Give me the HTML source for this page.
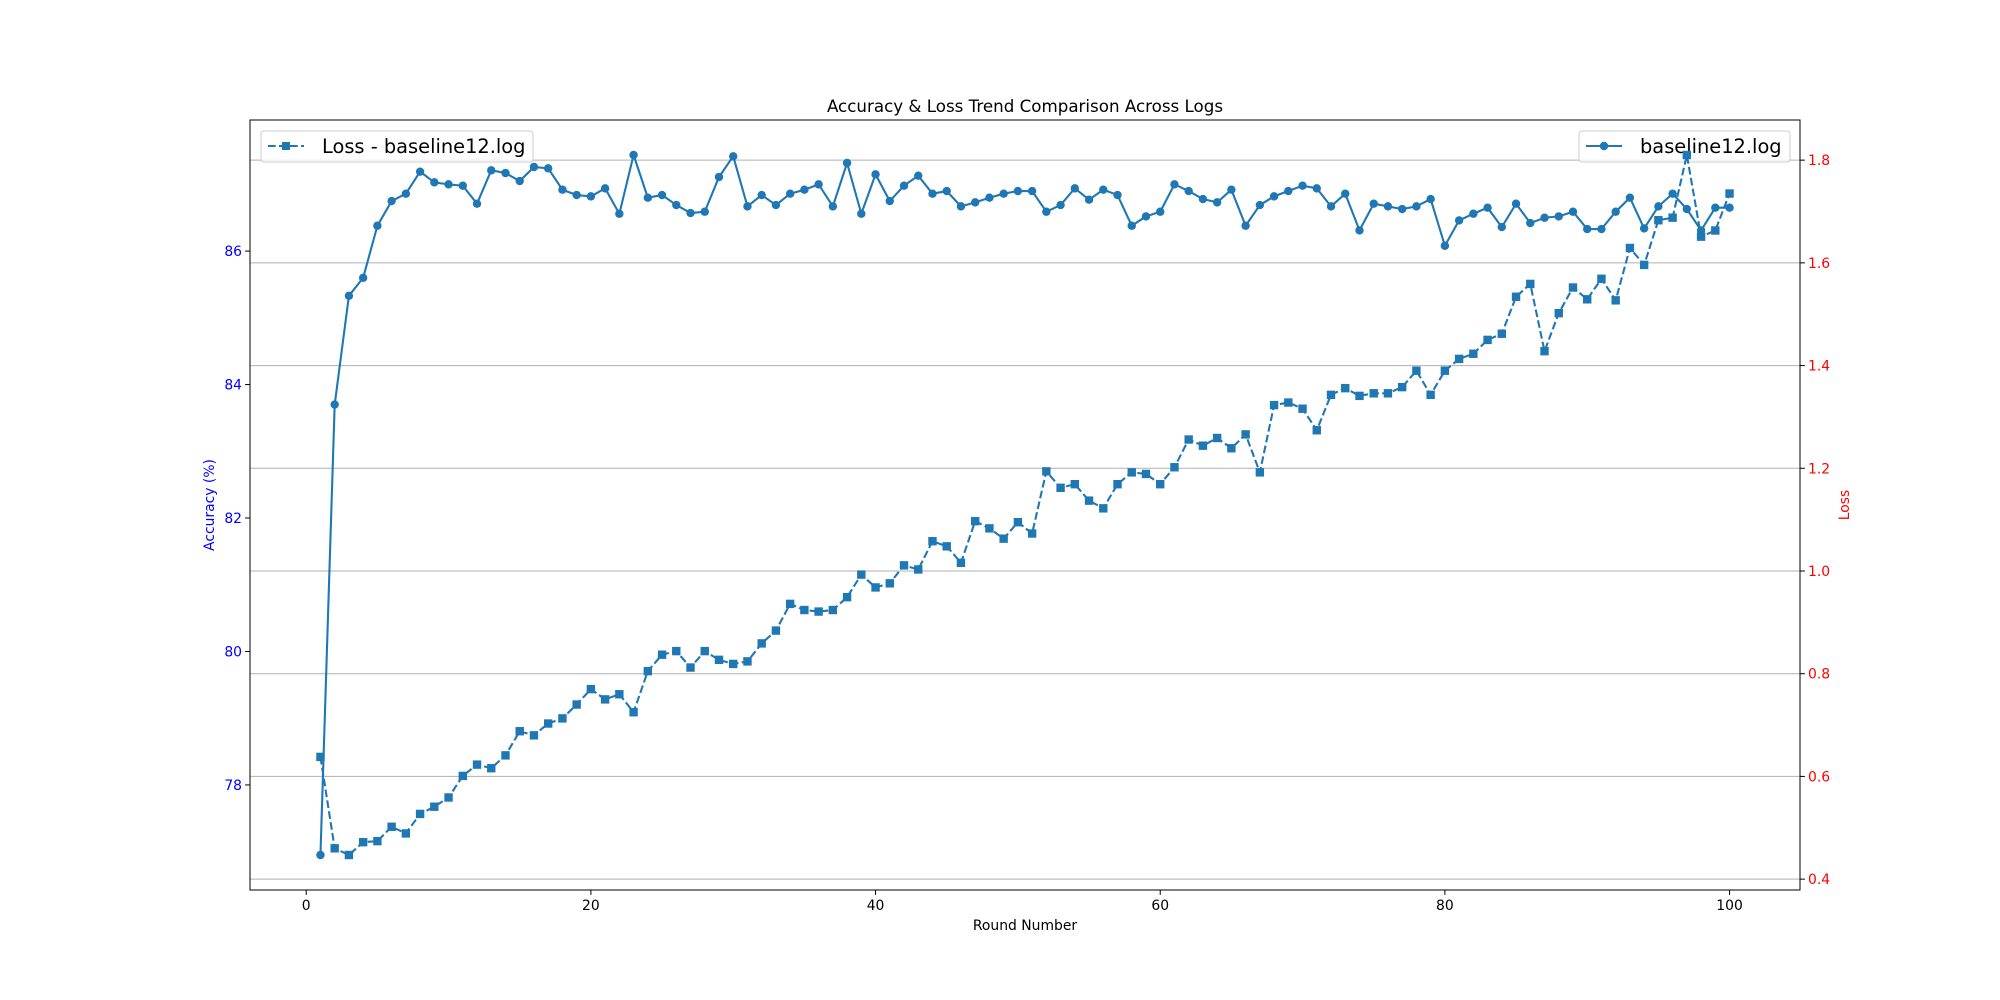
<!DOCTYPE html>
<html><head><meta charset="utf-8"><style>
html,body{margin:0;padding:0;background:#fff;}
svg{display:block;font-family:"DejaVu Sans","Liberation Sans",sans-serif;}
</style></head><body>
<svg id="chart" width="2000" height="1000" viewBox="0 0 2000 1000" xmlns="http://www.w3.org/2000/svg">
<rect x="0" y="0" width="2000" height="1000" fill="#fff"/>
<text x="1025" y="112" font-size="16.7" text-anchor="middle">Accuracy &amp; Loss Trend Comparison Across Logs</text>
<g id="grid"></g>
<g id="xticks"></g>
<g id="lticks"></g>
<g id="rticks"></g>
<g id="accseries"></g>
<g>
<rect x="1579" y="131" width="211" height="31" rx="3" fill="#fff" fill-opacity="0.8" stroke="#ccc"/>
<line x1="1586" y1="146" x2="1622" y2="146" stroke="#1f77b4" stroke-width="2.1"/>
<circle cx="1604" cy="146" r="4.2" fill="#1f77b4"/>
<text x="1640" y="153" font-size="19.4">baseline12.log</text>
</g>
<g id="lossseries"></g>
<rect x="250" y="120" width="1550" height="770" fill="none" stroke="#000" stroke-width="1"/>
<text x="1025" y="930" font-size="13.9" text-anchor="middle">Round Number</text>
<text transform="translate(214,505) rotate(-90)" font-size="13.9" fill="blue" text-anchor="middle">Accuracy (%)</text>
<text transform="translate(1849,505) rotate(-90)" font-size="13.9" fill="red" text-anchor="middle">Loss</text>
<g>
<rect x="261" y="131" width="272" height="31" rx="3" fill="#fff" fill-opacity="0.8" stroke="#ccc"/>
<line x1="268" y1="146" x2="304" y2="146" stroke="#1f77b4" stroke-width="2.1" stroke-dasharray="7.7,3.3"/>
<rect x="282" y="142" width="8" height="8" fill="#1f77b4"/>
<text x="322" y="153" font-size="19.4">Loss - baseline12.log</text>
</g>
</svg>
<script>
const rounds = Array.from({length:100},(_,i)=>i+1);
const accuracy = [76.95,83.70,85.33,85.60,86.38,86.75,86.86,87.19,87.03,87.00,
86.98,86.71,87.21,87.17,87.05,87.26,87.24,86.92,86.84,86.82,
86.94,86.56,87.44,86.80,86.84,86.69,86.57,86.59,87.11,87.42,
86.67,86.84,86.69,86.86,86.92,87.00,86.67,87.32,86.56,87.15,
86.75,86.98,87.13,86.86,86.90,86.67,86.73,86.80,86.86,86.90,
86.90,86.59,86.69,86.94,86.77,86.92,86.84,86.38,86.52,86.59,
87.00,86.90,86.78,86.73,86.92,86.38,86.69,86.82,86.90,86.98,
86.94,86.67,86.86,86.31,86.71,86.67,86.63,86.67,86.78,86.08,
86.46,86.56,86.65,86.36,86.71,86.42,86.50,86.52,86.59,86.33,
86.33,86.59,86.80,86.34,86.67,86.86,86.63,86.31,86.65,86.65];
const loss = [0.638,0.460,0.447,0.472,0.474,0.502,0.489,0.527,0.541,0.559,
0.601,0.623,0.616,0.641,0.688,0.680,0.703,0.713,0.740,0.770,
0.750,0.760,0.725,0.805,0.837,0.844,0.812,0.844,0.827,0.819,
0.824,0.859,0.884,0.936,0.924,0.921,0.924,0.949,0.993,0.968,
0.976,1.011,1.003,1.058,1.048,1.016,1.097,1.083,1.063,1.095,
1.073,1.194,1.162,1.169,1.137,1.122,1.169,1.192,1.189,1.169,
1.202,1.256,1.244,1.259,1.239,1.266,1.192,1.323,1.328,1.316,
1.274,1.343,1.356,1.341,1.346,1.346,1.358,1.390,1.343,1.390,
1.413,1.423,1.450,1.462,1.534,1.559,1.428,1.502,1.552,1.529,
1.569,1.527,1.629,1.596,1.683,1.688,1.810,1.651,1.663,1.735];
const xTicks = [0,20,40,60,80,100];
const accTicks = [78,80,82,84,86];
const lossTicks = [0.4,0.6,0.8,1.0,1.2,1.4,1.6,1.8];

const NS="http://www.w3.org/2000/svg";
const L=250,R=1800,T=120,B=890;
function mk(tag,attrs,parent){const e=document.createElementNS(NS,tag);for(const k in attrs)e.setAttribute(k,attrs[k]);parent.appendChild(e);return e;}
const xmin=Math.min(...rounds),xmaxv=Math.max(...rounds),xpad=(xmaxv-xmin)*0.05;
const X=v=>L+(v-(xmin-xpad))/((xmaxv+xpad)-(xmin-xpad))*(R-L);
const amin=Math.min(...accuracy),amax=Math.max(...accuracy),apad=(amax-amin)*0.05;
const YA=v=>B-(v-(amin-apad))/((amax+apad)-(amin-apad))*(B-T);
const lmin=Math.min(...loss),lmax=Math.max(...loss),lpad=(lmax-lmin)*0.05;
const YL=v=>B-(v-(lmin-lpad))/((lmax+lpad)-(lmin-lpad))*(B-T);

const grid=document.getElementById('grid'),xt=document.getElementById('xticks'),lt=document.getElementById('lticks'),rt=document.getElementById('rticks');
const accSer=document.getElementById('accseries'),lossSer=document.getElementById('lossseries');
xTicks.forEach(v=>{const x=X(v);
 const l=mk('line',{x1:x,x2:x,y1:B,y2:B+4.9,stroke:'#000','stroke-width':1},xt);
 
 
 const t=mk('text',{x:x,y:B+20,'font-size':13.9,'text-anchor':'middle'},xt);t.textContent=v;
 
 
});
accTicks.forEach(v=>{const y=YA(v);
 const l=mk('line',{x1:L-4.9,x2:L,y1:y,y2:y,stroke:'#000','stroke-width':1},lt);
 
 
 const t=mk('text',{x:L-8,y:y+5,'font-size':13.9,'text-anchor':'end',fill:'blue'},lt);t.textContent=v;
 
 
});
lossTicks.forEach(v=>{const y=YL(v);
 const g=mk('line',{x1:L,x2:R,y1:y,y2:y,stroke:'#b0b0b0','stroke-width':1},grid);
 
 
 const l=mk('line',{x1:R,x2:R+4.9,y1:y,y2:y,stroke:'#000','stroke-width':1},rt);
 
 
 const t=mk('text',{x:R+8,y:y+5,'font-size':13.9,fill:'red'},rt);t.textContent=v.toFixed(1);
 
 
});
const ap=mk('polyline',{points:rounds.map((r,i)=>X(r)+','+YA(accuracy[i])).join(' '),fill:'none',stroke:'#1f77b4','stroke-width':2.1},accSer);


rounds.forEach((r,i)=>{const m=mk('circle',{cx:X(r),cy:YA(accuracy[i]),r:4.2,fill:'#1f77b4'},accSer);
 
 });
const lp=mk('polyline',{points:rounds.map((r,i)=>X(r)+','+YL(loss[i])).join(' '),fill:'none',stroke:'#1f77b4','stroke-width':2.1,'stroke-dasharray':'7.7,3.3'},lossSer);


rounds.forEach((r,i)=>{const m=mk('rect',{x:X(r)-4.2,y:YL(loss[i])-4.2,width:8.4,height:8.4,fill:'#1f77b4'},lossSer);
 
 });
</script>
</body></html>
